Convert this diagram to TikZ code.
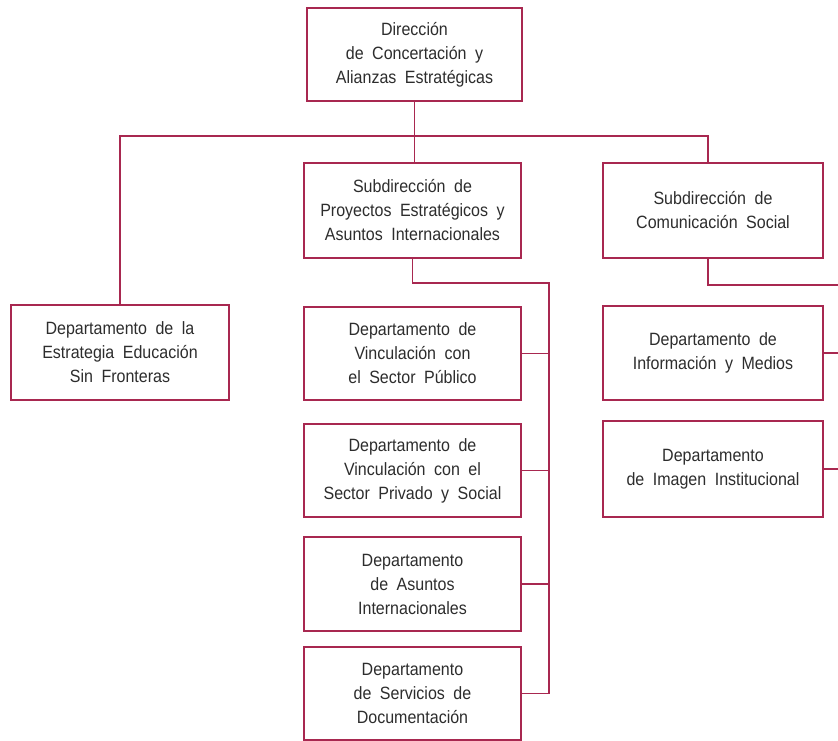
\documentclass[tikz,border=0pt]{standalone}
\usepackage{fontspec}
\setmainfont{Liberation Sans}[FakeStretch=0.9]
\definecolor{vino}{RGB}{168,40,80}
\definecolor{texto}{RGB}{45,45,45}
\newcommand{\letraorg}{\fontsize{17.8}{24}\selectfont\spaceskip=8.5pt plus 1pt\relax}
\tikzset{
  unidad/.style={draw=vino, line width=1.8pt, fill=white, align=center,
    text=texto, font=\letraorg, inner sep=0pt},
  enlace/.style={draw=vino, line width=1.8pt}
}
\begin{document}
\begin{tikzpicture}[x=1pt,y=-1pt]
        \useasboundingbox (0,0) rectangle (838,740);
        % Direccion
        \node[unidad, minimum width=215, minimum height=93] (dir) at (414.5,54.5)
          {Direcci\'on\\de Concertaci\'on y\\Alianzas Estrat\'egicas};
        % Subdirecciones
        \node[unidad, minimum width=217, minimum height=95] (subp) at (412.5,210.5)
          {Subdirecci\'on de\\Proyectos Estrat\'egicos y\\Asuntos Internacionales};
        \node[unidad, minimum width=220, minimum height=95] (subc) at (713,210.5)
          {Subdirecci\'on de\\Comunicaci\'on Social};
        % Departamentos
        \node[unidad, minimum width=218, minimum height=95] (dedu) at (120,352.5)
          {Departamento de la\\Estrategia Educaci\'on\\Sin Fronteras};

        \node[unidad, minimum width=217, minimum height=93] (dvpub) at (412.5,353.5)
          {Departamento de\\Vinculaci\'on con\\el Sector P\'ublico};
        \node[unidad, minimum width=217, minimum height=93] (dvpriv) at (412.5,470.5)
          {Departamento de\\Vinculaci\'on con el\\Sector Privado y Social};
        \node[unidad, minimum width=217, minimum height=94] (dasu) at (412.5,584)
          {Departamento\\de Asuntos\\Internacionales};
        \node[unidad, minimum width=217, minimum height=93] (dser) at (412.5,693.5)
          {Departamento\\de Servicios de\\Documentaci\'on};

        \node[unidad, minimum width=220, minimum height=94] (dinf) at (713,353)
          {Departamento de\\Informaci\'on y Medios};
        \node[unidad, minimum width=220, minimum height=96] (dima) at (713,469)
          {Departamento\\de Imagen Institucional};

        % Lineas
        \coordinate (bus) at (414.5,136);
        \coordinate (pbus) at (549,283);
        \coordinate (cbus) at (838,285);
        \coordinate (ctop) at (708,163);

        \draw[enlace] (dir.south) -- (dir.south |- subp.north);
        \draw[enlace] (dedu.north) |- (bus) -| (ctop);

        \draw[enlace] (subp.south) |- (pbus) |- (dser.east);
        \draw[enlace] (dvpub.east) -- (dvpub.east -| pbus);
        \draw[enlace] (dvpriv.east) -- (dvpriv.east -| pbus);
        \draw[enlace] (dasu.east) -- (dasu.east -| pbus);

        \draw[enlace] (ctop |- subc.south) |- (cbus);
        \draw[enlace] (dinf.east) -- (dinf.east -| cbus);
        \draw[enlace] (dima.east) -- (dima.east -| cbus);
\end{tikzpicture}
\end{document}
